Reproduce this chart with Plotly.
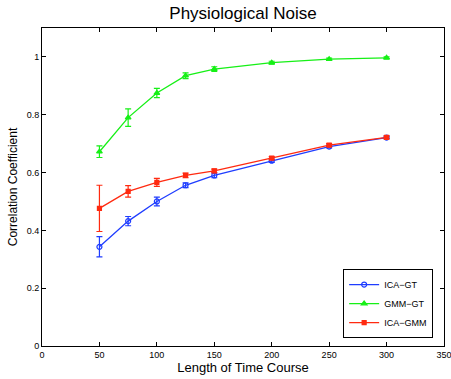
import plotly.graph_objects as go

lengths = [50, 75, 100, 125, 150, 200, 250, 300]

ica_gt = [0.343, 0.432, 0.500, 0.556, 0.590, 0.641, 0.690, 0.721]
ica_gt_err = [0.035, 0.016, 0.015, 0.008, 0.008, 0.006, 0.005, 0.005]

gmm_gt = [0.672, 0.790, 0.875, 0.935, 0.958, 0.980, 0.992, 0.997]
gmm_gt_err = [0.020, 0.030, 0.016, 0.010, 0.008, 0.005, 0.004, 0.003]

ica_gmm = [0.476, 0.535, 0.566, 0.590, 0.606, 0.650, 0.695, 0.722]
ica_gmm_err = [0.080, 0.020, 0.014, 0.008, 0.006, 0.005, 0.005, 0.005]

series = [
    ("ICA\u2212GT", ica_gt, ica_gt_err, "#1f3dff", "circle-open", 5),
    ("GMM\u2212GT", gmm_gt, gmm_gt_err, "#16f016", "triangle-up", 5),
    ("ICA\u2212GMM", ica_gmm, ica_gmm_err, "#ff2a10", "square", 4),
]

FONT = "Liberation Sans, Arial, sans-serif"

fig = go.Figure()
for name, vals, err, color, sym, msize in series:
    fig.add_trace(go.Scatter(
        x=lengths, y=vals, name=name, mode="lines+markers",
        line=dict(color=color, width=1.3),
        marker=dict(symbol=sym, size=msize, color=color, line=dict(color=color, width=1.2)),
        error_y=dict(type="data", array=err, visible=True, color=color,
                     thickness=1.2, width=3),
    ))

axis_common = dict(
    showgrid=False, zeroline=False, showline=True, linecolor="black",
    linewidth=1, mirror="ticks", ticks="inside", ticklen=4,
    tickcolor="black", ticklabeloverflow="allow", automargin=False,
    tickfont=dict(family=FONT, size=9, color="black"),
)

fig.update_layout(
    width=451, height=379,
    margin=dict(l=42, r=7, t=28, b=33),
    paper_bgcolor="white", plot_bgcolor="white",
    title=dict(text="Physiological Noise", x=0.5, xref="paper", xanchor="center",
               y=0.966, yanchor="middle",
               font=dict(family=FONT, size=17, color="black")),
    xaxis=dict(range=[0, 350], tickvals=[0, 50, 100, 150, 200, 250, 300, 350],
               title=dict(text="Length of Time Course", standoff=2,
                          font=dict(family=FONT, size=13, color="black")),
               **axis_common),
    yaxis=dict(range=[0, 1.1], tickvals=[0, 0.2, 0.4, 0.6, 0.8, 1],
               ticktext=["0", "0.2", "0.4", "0.6", "0.8", "1"],
               title=dict(text="Correlation Coefficient", standoff=6,
                          font=dict(family=FONT, size=12, color="black")),
               **axis_common),
    legend=dict(x=0.973, y=0.025, xanchor="right", yanchor="bottom",
                bordercolor="black", borderwidth=1, bgcolor="white",
                font=dict(family=FONT, size=9, color="black"),
                tracegroupgap=0, itemwidth=30),
    showlegend=True,
)

fig.write_html("out.html")
